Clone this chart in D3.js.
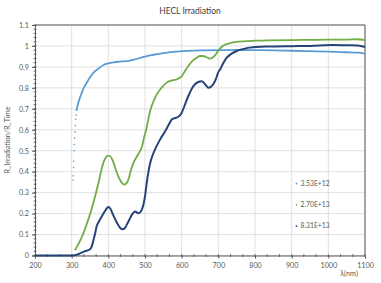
<!DOCTYPE html>
<html>
<head>
<meta charset="utf-8">
<script src="https://cdn.jsdelivr.net/npm/d3@7"></script>
<style>
  body { margin: 0; background: #fff; }
  text { font-family: Lato, "Open Sans", sans-serif; }
</style>
</head>
<body>
<svg id="chart" width="381" height="283"></svg>
<script>
// series data (wavelength nm, ratio)
const seriesNames = ["3.53E+12", "2.70E+13", "8.31E+13"];
const seriesColors = ["#5B9BD5", "#70AD47", "#264478"];

// light blue: sparse dotted start, then continuous
const lbDotNm  = [304, 304.5, 305, 305.5, 306.5, 307, 308, 309, 310, 311, 312];
const lbDotVal = [0.36, 0.38, 0.42, 0.45, 0.50, 0.53, 0.56, 0.59, 0.62, 0.65, 0.67];
const lbNm  = [313, 316, 320, 325, 333, 343, 352, 361, 375, 388, 400, 415, 430, 451, 470, 487, 505, 523, 550, 577, 600, 631, 660, 704, 750, 800, 850, 900, 950, 1000, 1050, 1080, 1095, 1100];
const lbVal = [0.69, 0.715, 0.74, 0.765, 0.80, 0.83, 0.855, 0.875, 0.895, 0.91, 0.917, 0.922, 0.925, 0.928, 0.935, 0.943, 0.952, 0.958, 0.966, 0.972, 0.975, 0.978, 0.979, 0.98, 0.981, 0.98, 0.979, 0.977, 0.975, 0.973, 0.97, 0.968, 0.965, 0.962];

const grNm  = [309, 320, 332, 345, 355, 365, 373, 380, 386, 393, 400, 407, 413, 422, 432, 443, 450, 456, 462, 468, 477, 486, 492, 497, 503, 514, 523, 532, 545, 559, 572, 586, 595, 600, 609, 618, 630, 641, 650, 659, 668, 677, 684, 691, 698, 705, 715, 732, 750, 768, 800, 832, 900, 950, 1000, 1050, 1080, 1100];
const grVal = [0.025, 0.06, 0.106, 0.17, 0.226, 0.29, 0.346, 0.40, 0.44, 0.468, 0.477, 0.47, 0.449, 0.40, 0.36, 0.338, 0.345, 0.37, 0.41, 0.44, 0.47, 0.497, 0.52, 0.56, 0.60, 0.69, 0.735, 0.769, 0.80, 0.825, 0.835, 0.84, 0.848, 0.856, 0.88, 0.904, 0.93, 0.944, 0.952, 0.952, 0.946, 0.94, 0.944, 0.955, 0.972, 0.988, 1.003, 1.013, 1.019, 1.022, 1.025, 1.027, 1.028, 1.029, 1.03, 1.03, 1.032, 1.028];

const dbNm  = [200, 250, 300, 315, 323, 335, 350, 355, 359, 364, 368, 375, 382, 390, 400, 406, 413, 420, 427, 433, 439, 445, 450, 457, 464, 473, 482, 491, 496, 500, 506, 514, 520, 527, 541, 555, 565, 573, 582, 591, 598, 604, 611, 618, 625, 632, 645, 655, 665, 673, 680, 686, 693, 700, 705, 714, 723, 735, 750, 770, 786, 832, 900, 950, 1013, 1050, 1080, 1100];
const dbVal = [0, 0, 0, 0.004, 0.01, 0.02, 0.03, 0.045, 0.07, 0.105, 0.138, 0.165, 0.186, 0.21, 0.231, 0.222, 0.194, 0.168, 0.146, 0.13, 0.125, 0.13, 0.146, 0.17, 0.194, 0.21, 0.202, 0.218, 0.245, 0.282, 0.362, 0.44, 0.475, 0.505, 0.553, 0.593, 0.625, 0.649, 0.656, 0.662, 0.675, 0.697, 0.73, 0.76, 0.787, 0.808, 0.828, 0.832, 0.815, 0.8, 0.805, 0.817, 0.84, 0.875, 0.888, 0.92, 0.944, 0.962, 0.976, 0.986, 0.992, 0.997, 0.999, 1.0, 1.004, 1.003, 1.002, 0.995];

const xTicks = d3.range(200, 1101, 100);
const yTicks = d3.range(0, 1.101, 0.1);

const svg = d3.select("#chart");
const m = { left: 35, right: 365, top: 25, bottom: 255.5 };

const x = d3.scaleLinear().domain([200, 1100]).range([m.left, m.right]);
const y = d3.scaleLinear().domain([0, 1.1]).range([m.bottom, m.top]);

// title
svg.append("text")
  .attr("x", 190).attr("y", 13.5)
  .attr("text-anchor", "middle")
  .attr("font-size", 8.5)
  .attr("fill", "#404040")
  .text("HECL Irradiation");

// gridlines
const grid = svg.append("g").attr("stroke", "#D9D9D9").attr("stroke-width", 0.8);
grid.selectAll(".gx").data(xTicks).enter().append("line")
  .attr("x1", d => x(d)).attr("x2", d => x(d))
  .attr("y1", m.top).attr("y2", m.bottom);
grid.selectAll(".gy").data(yTicks).enter().append("line")
  .attr("x1", m.left).attr("x2", m.right)
  .attr("y1", d => y(d)).attr("y2", d => y(d));

// axes
const xAxis = d3.axisBottom(x).tickValues(xTicks).tickSize(3).tickFormat(d3.format("d"));
const yAxis = d3.axisLeft(y).tickValues(yTicks).tickSize(3)
  .tickFormat(d => d === 0 ? "0" : d3.format(".1~f")(d));

const gx = svg.append("g").attr("transform", `translate(0,${m.bottom})`).call(xAxis);
const gy = svg.append("g").attr("transform", `translate(${m.left},0)`).call(yAxis);
[gx, gy].forEach(g => {
  g.select(".domain").attr("stroke", "#595959");
  g.selectAll(".tick line").attr("stroke", "#595959");
  g.selectAll("text").attr("fill", "#595959").attr("font-size", 7.2)
    .attr("font-family", "Lato, 'Open Sans', sans-serif");
});
gx.selectAll("text").attr("dy", "0.85em");
gy.selectAll("text").attr("x", -6);

// minor ticks
const minorX = d3.range(200, 1100.1, 100 / 3);
svg.append("g").selectAll("line").data(minorX).enter().append("line")
  .attr("x1", d => x(d)).attr("x2", d => x(d))
  .attr("y1", m.bottom - 1.5).attr("y2", m.bottom + 1.5)
  .attr("stroke", "#595959").attr("stroke-width", 0.8);
const minorY = d3.range(0, 1.1001, 0.02);
svg.append("g").selectAll("line").data(minorY).enter().append("line")
  .attr("x1", m.left - 1.5).attr("x2", m.left + 1.5)
  .attr("y1", d => y(d)).attr("y2", d => y(d))
  .attr("stroke", "#595959").attr("stroke-width", 0.8);

// top and right frame
svg.append("path")
  .attr("d", `M${m.left},${m.top}H${m.right}V${m.bottom}`)
  .attr("fill", "none").attr("stroke", "#595959").attr("stroke-width", 1);

// series lines
const line = d3.line()
  .curve(d3.curveMonotoneX)
  .x(d => x(d[0]))
  .y(d => y(d[1]));

const series = [
  d3.zip(lbNm, lbVal),
  d3.zip(grNm, grVal),
  d3.zip(dbNm, dbVal)
];

svg.append("g")
  .selectAll("circle")
  .data(d3.zip(lbDotNm, lbDotVal))
  .enter().append("circle")
  .attr("cx", d => x(d[0])).attr("cy", d => y(d[1]))
  .attr("r", 0.8)
  .attr("fill", seriesColors[0]);

svg.append("g")
  .selectAll("path")
  .data(series)
  .enter().append("path")
  .attr("d", d => line(d))
  .attr("fill", "none")
  .attr("stroke", (d, i) => seriesColors[i])
  .attr("stroke-width", (d, i) => i === 2 ? 2 : 1.8)
  .attr("stroke-linejoin", "round");

// legend
const legend = svg.append("g").selectAll("g")
  .data(seriesNames)
  .enter().append("g")
  .attr("transform", (d, i) => `translate(296.5,${183.5 + i * 21.3})`);
legend.append("circle")
  .attr("r", 0.9)
  .attr("fill", (d, i) => seriesColors[i]);
legend.append("text")
  .attr("x", 4).attr("dy", "0.35em")
  .attr("font-size", 6.8)
  .attr("fill", "#595959")
  .text(d => d);

// axis titles
svg.append("text")
  .attr("transform", "translate(9.5,140) rotate(-90)")
  .attr("text-anchor", "middle")
  .attr("font-size", 7.2)
  .attr("fill", "#595959")
  .text("R_Irradiation/R_Time");

svg.append("text")
  .attr("x", 349).attr("y", 276)
  .attr("text-anchor", "middle")
  .attr("font-size", 7.2)
  .attr("fill", "#595959")
  .text("λ(nm)");
</script>
</body>
</html>
